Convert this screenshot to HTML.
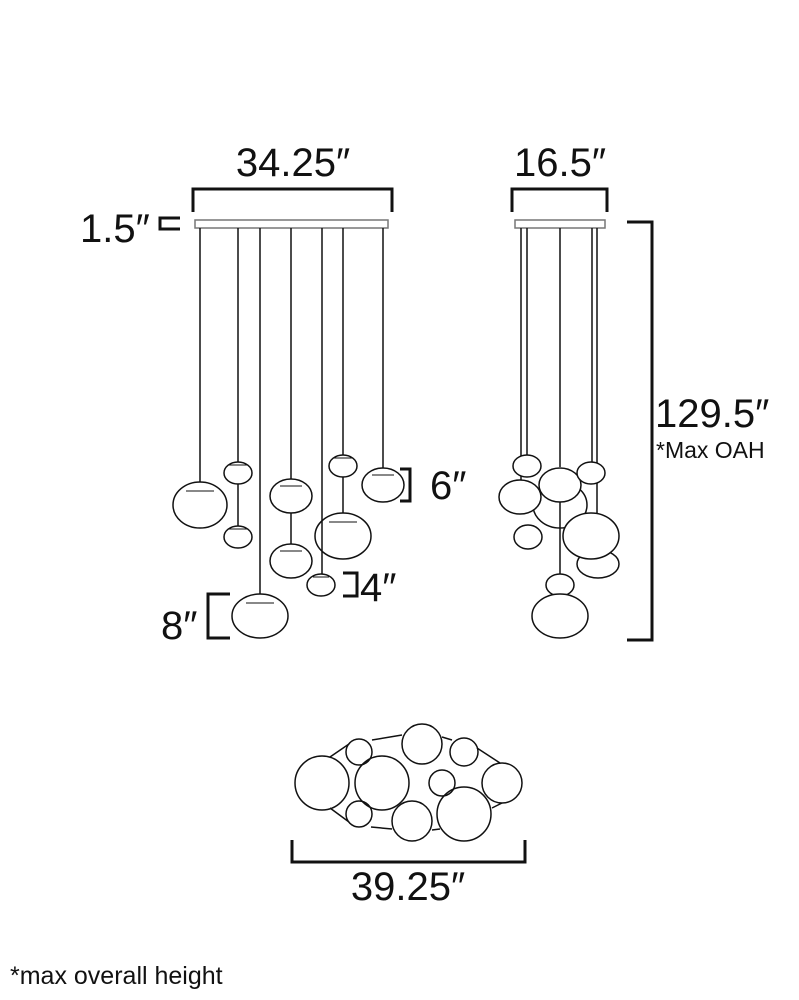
<!DOCTYPE html>
<html><head><style>html,body{margin:0;padding:0;background:#fff}svg{display:block}</style></head><body>
<svg width="799" height="1000" viewBox="0 0 799 1000" xmlns="http://www.w3.org/2000/svg" font-family="Liberation Sans, sans-serif" fill="none" stroke="#111">
<path d="M193 212V189H392V212" stroke-width="3"/>
<path d="M512 212V189H607V212" stroke-width="3"/>
<path d="M180 218H160V229H180" stroke-width="3"/>
<path d="M627 222H652V640H627" stroke-width="3"/>
<path d="M400 469H410V501H400" stroke-width="3"/>
<path d="M343 573H357V596H343" stroke-width="3"/>
<path d="M230 594H208V638H230" stroke-width="3"/>
<path d="M292 840V862H525V840" stroke-width="3"/>
<rect x="195" y="220" width="193" height="8" stroke="#777" stroke-width="1.5"/>
<g stroke-width="1.5">
<path d="M200 228V482M238 228V462M238 484V526M260 228V594M291 228V479M291 513V544M322 228V574M343 228V455M343 477V513M383 228V468"/>
<path d="M186 491H214M228 465H248M228 529H248M246 603H274M280 486H302M280 551H302M313 577H329M333 458H353M329 522H357M372 475H394" stroke-width="1"/>
<ellipse cx="200" cy="505" rx="27" ry="23"/>
<ellipse cx="238" cy="473" rx="14" ry="11"/>
<ellipse cx="238" cy="537" rx="14" ry="11"/>
<ellipse cx="260" cy="616" rx="28" ry="22"/>
<ellipse cx="291" cy="496" rx="21" ry="17"/>
<ellipse cx="291" cy="561" rx="21" ry="17"/>
<ellipse cx="321" cy="585" rx="14" ry="11"/>
<ellipse cx="343" cy="466" rx="14" ry="11"/>
<ellipse cx="343" cy="536" rx="28" ry="23"/>
<ellipse cx="383" cy="485" rx="21" ry="17"/>
</g>
<rect x="515" y="220" width="90" height="8" stroke="#777" stroke-width="1.5"/>
<g stroke-width="1.5" fill="#fff">
<path d="M521 228V480M527 228V455M560 228V467M592 228V462M597 228V513" fill="none"/>
<ellipse cx="560" cy="505" rx="27" ry="23"/>
<ellipse cx="598" cy="564" rx="21" ry="14"/>
<ellipse cx="527" cy="466" rx="14" ry="11"/>
<ellipse cx="520" cy="497" rx="21" ry="17"/>
<ellipse cx="528" cy="537" rx="14" ry="12"/>
<ellipse cx="560" cy="485" rx="21" ry="17"/>
<ellipse cx="591" cy="473" rx="14" ry="11"/>
<ellipse cx="591" cy="536" rx="28" ry="23"/>
<path d="M560 502V574" fill="none"/>
<ellipse cx="560" cy="585" rx="14" ry="11"/>
<ellipse cx="560" cy="616" rx="28" ry="22"/>
</g>
<g stroke-width="1.5">
<path d="M330 757L349 744M372 740L402 735M442 737L452 740M477 748L500 763M330 808L349 822M371 827L392 829M432 830L440 829M492 808L502 803"/>
<circle cx="322" cy="783" r="27"/><circle cx="359" cy="752" r="13"/><circle cx="382" cy="783" r="27"/>
<circle cx="422" cy="744" r="20"/><circle cx="464" cy="752" r="14"/><circle cx="442" cy="783" r="13"/>
<circle cx="502" cy="783" r="20"/><circle cx="359" cy="814" r="13"/><circle cx="412" cy="821" r="20"/>
<circle cx="464" cy="814" r="27"/>
</g>
<g fill="#111" stroke="none">
<text x="293" y="176" font-size="40" text-anchor="middle">34.25″</text>
<text x="560" y="176" font-size="40" text-anchor="middle">16.5″</text>
<text x="80" y="242" font-size="40">1.5″</text>
<text x="655" y="427" font-size="40">129.5″</text>
<text x="656" y="458" font-size="23">*Max OAH</text>
<text x="430" y="499" font-size="40">6″</text>
<text x="360" y="601" font-size="40">4″</text>
<text x="161" y="639" font-size="40">8″</text>
<text x="408" y="900" font-size="40" text-anchor="middle">39.25″</text>
<text x="10" y="984" font-size="25">*max overall height</text>
</g>
</svg>
</body></html>
